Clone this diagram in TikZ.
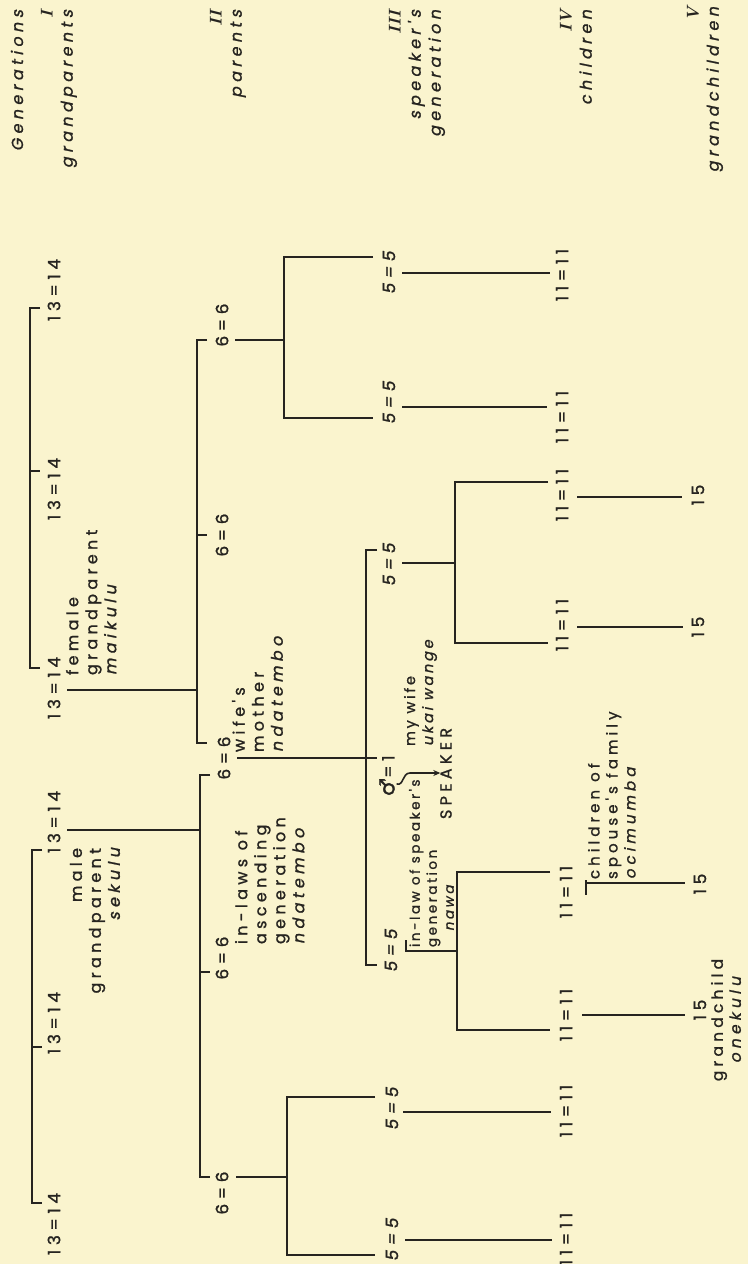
\documentclass[tikz,border=0pt]{standalone}
\usepackage{fontspec}
\usetikzlibrary{arrows.meta}
\newfontfamily\lab{Poppins}[LetterSpace=27,FakeBold=1.2]
\newfontfamily\labsl{Poppins}[LetterSpace=27,FakeSlant=0.2,FakeBold=1.2]
\newfontfamily\labn{Poppins}[LetterSpace=19,FakeBold=1.2]
\newfontfamily\labnsl{Poppins}[LetterSpace=19,FakeSlant=0.2,FakeBold=1.2]
\newfontfamily\symb{DejaVu Sans}[FakeBold=1.2]
\definecolor{paper}{RGB}{250,244,206}
\definecolor{ink}{RGB}{38,36,32}
\newcommand{\nat}[1]{{\labsl #1}}
\newcommand{\natn}[1]{{\labnsl #1}}
\newcommand{\rom}[1]{{\rmfamily\bfseries\itshape\fontsize{17}{20}\selectfont #1}}
\begin{document}
\begin{tikzpicture}[x=1pt,y=-1pt,
  line/.style={draw=ink, line width=2.5pt},
  every node/.style={text=ink, inner sep=0pt, outer sep=0pt},
  couple/.style={rotate=90, font=\lab\fontsize{17}{20}\selectfont},
  scouple/.style={rotate=90, font=\labsl\fontsize{17}{20}\selectfont},
  hdr/.style={rotate=90, font=\labsl\fontsize{16}{20}\selectfont, align=right, anchor=north east},
  note/.style={rotate=90, font=\lab\fontsize{16}{19}\selectfont, align=left, anchor=north west},
  tight/.style={rotate=90, font=\labn\fontsize{13.5}{17}\selectfont, align=left, anchor=north west}
]
\fill[paper] (0,0) rectangle (748,1264);
\useasboundingbox (0,0) rectangle (748,1264);

% generation headers
\node[rotate=90, font=\labsl\fontsize{16}{20}\selectfont, anchor=east] (hGen) at (17,10) {Generations};
\node[hdr] (hI) at (41,10) {\rom{I}\\grandparents};
\node[hdr] (hII) at (210,10) {\rom{II}\\parents};
\node[hdr] (hIII) at (389,10) {\rom{III}\\speaker's\\generation};
\node[hdr] (hIV) at (560,10) {\rom{IV}\\children};
\node[hdr] (hV) at (687,7) {\rom{V}\\grandchildren};

% grandparents
\node[couple] (A1) at (54,290) {13=14};
\node[couple] (A2) at (54,489) {13=14};
\node[couple] (A3) at (54,688) {13=14};
\node[couple] (B1) at (54,822) {13=14};
\node[couple] (B2) at (54,1023) {13=14};
\node[couple] (B3) at (54,1224) {13=14};
\node[note] (fgp) at (66,675) {female\\grandparent\\\nat{maikulu}};
\node[note, align=right, anchor=north east] (mgp) at (70,848) {male\\grandparent\\\nat{sekulu}\hspace{18pt}};

% parents
\node[couple] (Pa) at (222,325) {6=6};
\node[couple] (Pb) at (222,535) {6=6};
\node[couple] (Pc) at (224,758) {6=6};
\node[couple] (Pd) at (222,958) {6=6};
\node[couple] (Pe) at (222,1193) {6=6};
\node[note] (wm) at (232,752) {wife's\\mother\\\nat{ndatembo}};
\node[note] (ila) at (235,944) {in-laws of\\ascending\\generation\\\nat{ndatembo}};

% speaker's generation
\node[scouple] (Sa1) at (389,273) {5=5};
\node[scouple] (Sa2) at (389,403) {5=5};
\node[scouple] (Sb1) at (389,565) {5=5};
\node[couple] (Spk) at (387,776) {{\symb\fontsize{21}{21}\selectfont ♂}=1};
\node[scouple] (Sb3) at (391,951) {5=5};
\node[scouple] (Sd1) at (392,1109) {5=5};
\node[scouple] (Sd2) at (392,1240) {5=5};
\node[tight, font=\labn\fontsize{14.5}{18}\selectfont] (wife) at (404,746) {my wife\\\natn{ukai wange}};
\node[rotate=90, font=\lab\fontsize{16}{18}\selectfont, anchor=west] (SPK) at (446,819) {SPEAKER};
\node[tight] (ilsg) at (409,947) {in-law of speaker's\\generation\\\hspace{16pt}\natn{nawa}};

% children
\node[couple] (Ca1) at (562,275) {11=11};
\node[couple] (Ca2) at (562,417) {11=11};
\node[couple] (Cb1) at (562,495) {11=11};
\node[couple] (Cb2) at (562,625) {11=11};
\node[couple] (Cc1) at (566,892) {11=11};
\node[couple] (Cc2) at (566,1015) {11=11};
\node[couple] (Cd1) at (566,1111) {11=11};
\node[couple] (Cd2) at (566,1239) {11=11};
\node[note, font=\lab\fontsize{15}{18}\selectfont] (csf) at (588,879) {children of\\spouse's family\\\nat{ocimumba}};

% grandchildren
\node[couple] (G1) at (698,495) {15};
\node[couple] (G2) at (698,627) {15};
\node[couple] (G3) at (700,884) {15};
\node[couple] (G4) at (700,1010) {15};
\node[rotate=90, font=\lab\fontsize{15.5}{18}\selectfont, align=center] (gch) at (726,1020) {grandchild\\\nat{onekulu}};

% grandparent sibling brackets
\draw[line] (40,308) -- (30,308) -- (30,668) -- (40,668);
\draw[line] (30,471) -- (40,471);
\draw[line] (42,850) -- (32,850) -- (32,1203) -- (42,1203);
\draw[line] (32,1047) -- (42,1047);
% grandparents to parents
\draw[line] (67,690) -- (197,690);
\draw[line] (67,830) -- (199,830);
% parent brackets
\draw[line] (207,340) -- (197,340) -- (197,743) -- (207,743);
\draw[line] (197,535) -- (207,535);
\draw[line] (210,775) -- (200,775) -- (200,1177) -- (210,1177);
\draw[line] (200,972) -- (210,972);
% top 6=6 family
\draw[line] (235,340) -- (284,340);
\draw[line] (373,257) -- (284,257) -- (284,418) -- (373,418);
\draw[line] (402,273) -- (550,273);
\draw[line] (402,407) -- (547,407);
% speaker's family
\draw[line] (237,758) -- (377,758);
\draw[line] (377,550) -- (366,550) -- (366,965) -- (377,965);
\draw[line] (402,563) -- (455,563);
\draw[line] (548,482) -- (455,482) -- (455,643) -- (548,643);
\draw[line] (577,497) -- (682,497);
\draw[line] (577,627) -- (683,627);
\draw[line] (406,940) -- (406,951) -- (457,951);
\draw[line] (550,872) -- (457,872) -- (457,1030) -- (550,1030);
\draw[line] (586,880) -- (586,895);
\draw[line] (586,883) -- (685,883);
\draw[line] (582,1015) -- (685,1015);
% bottom 6=6 family
\draw[line] (236,1177) -- (287,1177);
\draw[line] (375,1097) -- (287,1097) -- (287,1255) -- (375,1255);
\draw[line] (403,1112) -- (551,1112);
\draw[line] (405,1240) -- (552,1240);
% speaker arrow
\draw[draw=ink, line width=1.6pt, -{Stealth[length=7pt,width=6pt]}] (Spk.south) ++(2,8) .. controls (404,786) and (402,773) .. (410,773) -- (SPK.north |- 0,773);
\end{tikzpicture}
\end{document}
